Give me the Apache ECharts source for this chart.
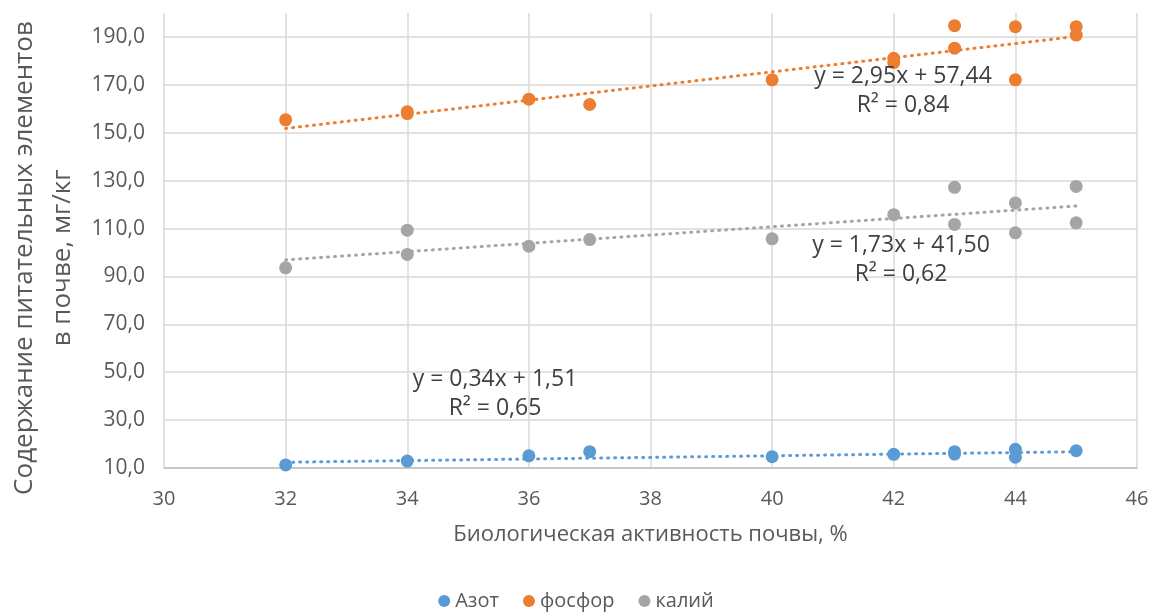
<!DOCTYPE html>
<html>
<head>
<meta charset="utf-8">
<script src="https://cdn.jsdelivr.net/npm/echarts@6/dist/echarts.min.js"></script>
<style>html,body{margin:0;padding:0;background:#fff}#c{width:1152px;height:612px}</style>
</head>
<body>
<div id="c"></div>
<script>
// --- data ---
const seriesNames = ['Азот', 'фосфор', 'калий'];
const azotX   = [32, 34, 36, 37, 40, 42, 43, 43, 44, 44, 45];
const azotY   = [11.3, 12.9, 15.1, 16.8, 14.7, 15.7, 16.8, 15.8, 17.8, 14.5, 17.2];
const fosforX = [32, 34, 34, 36, 37, 40, 42, 42, 43, 43, 44, 44, 45, 45];
const fosforY = [155.4, 158.0, 158.8, 164.0, 161.8, 172.1, 181.1, 179.3, 194.7, 185.3, 194.3, 172.1, 194.3, 190.8];
const kaliiX  = [32, 34, 34, 36, 37, 40, 42, 43, 43, 44, 44, 45, 45];
const kaliiY  = [93.6, 109.3, 99.2, 102.6, 105.4, 105.7, 115.8, 127.2, 111.7, 120.7, 108.2, 127.6, 112.4];
// trendline end points (x from 32 to 45)
const trendX      = [32, 45];
const trendAzotY  = [12.4, 16.8];
const trendFosY   = [151.8, 190.2];
const trendKalY   = [96.9, 119.4];
const equations = [
  ['y = 0,34x + 1,51', 'R² = 0,65'],
  ['y = 2,95x + 57,44', 'R² = 0,84'],
  ['y = 1,73x + 41,50', 'R² = 0,62']
];
const xTitle = 'Биологическая активность почвы, %';
const yTitle = ['Содержание питательных элементов', 'в почве, мг/кг'];

const colors = ['#5B9BD5', '#ED7D31', '#A5A5A5'];
const zip = (xs, ys) => xs.map((x, i) => [x, ys[i]]);
const fmt = v => v.toFixed(1).replace('.', ',');
const FONT = 'Open Sans';

const chart = echarts.init(document.getElementById('c'));
const scatter = (name, xs, ys, c) => ({
  name, type: 'scatter', data: zip(xs, ys), symbolSize: 13,
  itemStyle: { color: c, opacity: 1 }, z: 3
});
const trend = (ys, c) => ({
  type: 'line', data: zip(trendX, ys), symbol: 'none', silent: true,
  lineStyle: { color: c, width: 3, type: [1, 6], cap: 'round' }, z: 4
});
const eqText = (lines, x, y) => ({
  type: 'text', x, y, z: 10,
  style: { text: lines.join('\n'), align: 'center', verticalAlign: 'middle',
    fill: '#404040', font: '23px "' + FONT + '"', lineHeight: 29 }
});

chart.setOption({
  animation: false,
  color: colors,
  textStyle: { fontFamily: FONT },
  grid: { left: 164, right: 15, top: 13, bottom: 144, containLabel: false, outerBoundsMode: 'none' },
  legend: {
    data: seriesNames, top: 591, left: 'center', icon: 'circle', padding: 0,
    itemWidth: 12, itemHeight: 12, itemGap: 24,
    textStyle: { color: '#595959', fontSize: 20, fontFamily: FONT }
  },
  xAxis: {
    type: 'value', min: 30, max: 46, interval: 2,
    name: xTitle, nameLocation: 'middle', nameGap: 56,
    nameTextStyle: { color: '#595959', fontSize: 22, fontFamily: FONT },
    axisLine: { show: true, lineStyle: { color: '#bfbfbf', width: 1.5 } },
    axisTick: { show: false },
    axisLabel: { color: '#595959', fontSize: 20, margin: 21, fontFamily: FONT },
    splitLine: { show: true, lineStyle: { color: '#d9d9d9', width: 1.5 } }
  },
  yAxis: {
    type: 'value', min: 10, max: 200, interval: 20,
    axisLine: { show: false },
    axisTick: { show: false },
    axisLabel: { color: '#595959', fontSize: 21, margin: 19, fontFamily: FONT,
      formatter: v => (v >= 199 ? '' : fmt(v)) },
    splitLine: { show: true, lineStyle: { width: 1.5,
      color: ['#d9d9d9','#d9d9d9','#d9d9d9','#d9d9d9','#d9d9d9','#d9d9d9','#d9d9d9','#d9d9d9','#d9d9d9','#d9d9d9','rgba(0,0,0,0)'] } }
  },
  graphic: [
    {
      type: 'text', x: 44, y: 258, rotation: Math.PI / 2,
      style: { text: yTitle.join('\n'), align: 'center', verticalAlign: 'middle',
        fill: '#595959', font: '26px "' + FONT + '"', lineHeight: 38 }
    },
    eqText(equations[0], 495, 394),
    eqText(equations[1], 903, 91),
    eqText(equations[2], 901, 260)
  ],
  series: [
    scatter(seriesNames[0], azotX, azotY, colors[0]),
    scatter(seriesNames[1], fosforX, fosforY, colors[1]),
    scatter(seriesNames[2], kaliiX, kaliiY, colors[2]),
    trend(trendAzotY, colors[0]),
    trend(trendFosY, colors[1]),
    trend(trendKalY, colors[2])
  ]
});
</script>
</body>
</html>
